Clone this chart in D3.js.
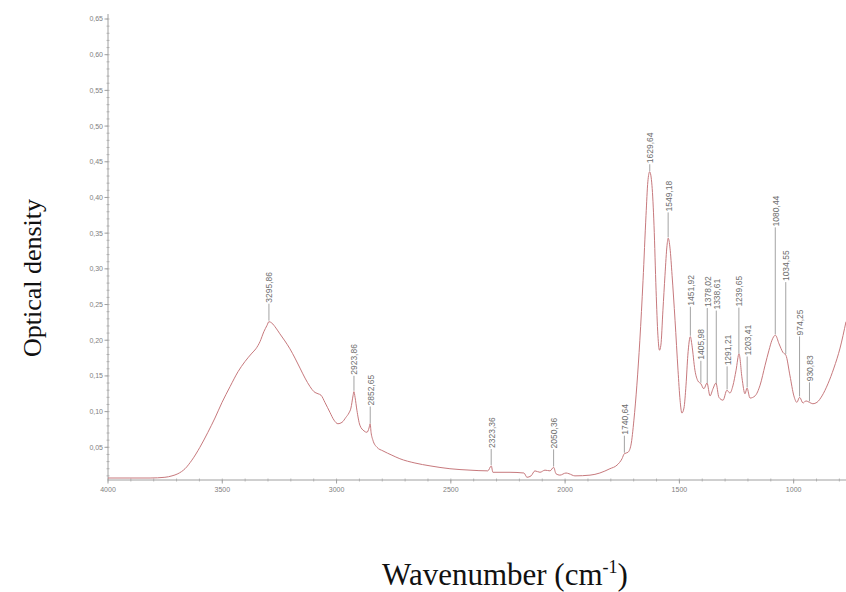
<!DOCTYPE html>
<html>
<head>
<meta charset="utf-8">
<script src="https://cdn.jsdelivr.net/npm/d3@7"></script>
<style>
  html, body { margin: 0; padding: 0; background: #fff; }
  svg { display: block; }
</style>
</head>
<body>
<svg id="chart" width="846" height="592"></svg>
<script>
// ИК-спектр: волновое число (см-1) и оптическая плотность
const wavenumbers = [
  4000, 3904, 3816, 3751, 3720, 3694, 3663, 3633, 3598, 3563, 3532, 3501, 3466, 3431, 3401,
  3370, 3353, 3335, 3318, 3304, 3296, 3283, 3265, 3248, 3226, 3204, 3182, 3160, 3138, 3116,
  3099, 3081, 3068, 3051, 3029, 3011, 2994, 2976, 2959, 2946, 2937, 2928, 2924, 2919, 2911,
  2898, 2880, 2867, 2858, 2853, 2849, 2841, 2823, 2797, 2758, 2723, 2657, 2591, 2504, 2416,
  2338, 2323, 2316, 2241, 2180, 2167, 2149, 2132, 2110, 2088, 2066, 2050, 2040, 2023, 1996,
  1983, 1957, 1891, 1848, 1804, 1773, 1751, 1741, 1725, 1712, 1699, 1686, 1673, 1659, 1646,
  1638, 1630, 1620, 1611, 1602, 1594, 1587, 1581, 1572, 1563, 1554, 1549, 1541, 1532, 1519,
  1506, 1497, 1489, 1480, 1471, 1463, 1452, 1445, 1432, 1419, 1406, 1393, 1379, 1366, 1353,
  1340, 1327, 1309, 1292, 1279, 1266, 1252, 1239, 1226, 1213, 1204, 1191, 1169, 1147, 1125,
  1108, 1095, 1080, 1064, 1047, 1034, 1016, 999, 986, 974, 959, 946, 931, 916, 898,
  876, 850, 824, 797, 771
];
const absorbance = [
  0.007, 0.007, 0.007, 0.008, 0.010, 0.013, 0.020, 0.032, 0.050, 0.071, 0.091, 0.113, 0.135, 0.156, 0.170,
  0.182, 0.188, 0.198, 0.212, 0.221, 0.226, 0.224, 0.217, 0.209, 0.199, 0.188, 0.175, 0.161, 0.147, 0.135,
  0.128, 0.125, 0.123, 0.113, 0.099, 0.088, 0.083, 0.085, 0.092, 0.098, 0.105, 0.122, 0.128, 0.120, 0.102,
  0.081, 0.073, 0.071, 0.077, 0.083, 0.071, 0.060, 0.050, 0.045, 0.039, 0.034, 0.028, 0.024, 0.020, 0.018,
  0.017, 0.024, 0.015, 0.015, 0.014, 0.008, 0.010, 0.017, 0.015, 0.018, 0.017, 0.022, 0.013, 0.011, 0.014,
  0.013, 0.010, 0.011, 0.014, 0.020, 0.025, 0.034, 0.041, 0.043, 0.053, 0.088, 0.137, 0.200, 0.284, 0.375,
  0.422, 0.436, 0.417, 0.361, 0.270, 0.207, 0.186, 0.193, 0.242, 0.291, 0.333, 0.343, 0.329, 0.291, 0.228,
  0.158, 0.116, 0.098, 0.105, 0.137, 0.179, 0.205, 0.193, 0.158, 0.143, 0.139, 0.132, 0.140, 0.122, 0.132,
  0.140, 0.120, 0.116, 0.130, 0.126, 0.136, 0.158, 0.181, 0.147, 0.125, 0.133, 0.119, 0.122, 0.137, 0.165,
  0.186, 0.200, 0.207, 0.195, 0.183, 0.179, 0.150, 0.122, 0.113, 0.120, 0.112, 0.115, 0.113, 0.111, 0.113,
  0.122, 0.139, 0.161, 0.189, 0.226
];

// Подписанные пики
const peakWavenumbers = [3295.86, 2923.86, 2852.65, 2323.36, 2050.36, 1740.64, 1629.64, 1549.18,
  1451.92, 1405.98, 1378.02, 1338.61, 1291.21, 1239.65, 1203.41, 1080.44, 1034.55, 974.25, 930.83];
const peakLabels = ["3295,86", "2923,86", "2852,65", "2323,36", "2050,36", "1740,64", "1629,64", "1549,18",
  "1451,92", "1405,98", "1378,02", "1338,61", "1291,21", "1239,65", "1203,41", "1080,44", "1034,55", "974,25", "930,83"];

// Деления осей
const xTicks = [4000, 3500, 3000, 2500, 2000, 1500, 1000];
const xTickLabels = ["4000", "3500", "3000", "2500", "2000", "1500", "1000"];
const yTicks = [0.05, 0.10, 0.15, 0.20, 0.25, 0.30, 0.35, 0.40, 0.45, 0.50, 0.55, 0.60, 0.65];
const yTickLabels = ["0,05", "0,10", "0,15", "0,20", "0,25", "0,30", "0,35", "0,40", "0,45", "0,50", "0,55", "0,60", "0,65"];

// длина выносных линий (пиксели), чтобы подписи не налезали друг на друга
const stemLength = [17, 15, 17, 16, 17, 17, 7, 25, 29, 22, 75, 73, 23, 46, 31, 107, 72, 60, 19];

const svg = d3.select("#chart");
const axisY = 480;

const x = d3.scaleLinear().domain([4000, 771]).range([108, 846]);
const y = d3.scaleLinear().domain([0, 0.65]).range([483, 19]);

const axisColor = "#a0a0a0";
const tickTextColor = "#808080";

// ось X
const xAxis = svg.append("g").attr("transform", `translate(0,${axisY})`);
xAxis.append("line")
  .attr("x1", 108).attr("x2", 846)
  .attr("stroke", axisColor);
xAxis.selectAll(".minor")
  .data(d3.range(4000, 771, -100))
  .enter().append("line")
  .attr("x1", (d) => x(d)).attr("x2", (d) => x(d))
  .attr("y1", -1.5).attr("y2", 1.5)
  .attr("stroke", axisColor).attr("stroke-width", 0.7);
xAxis.selectAll(".major")
  .data(xTicks)
  .enter().append("line")
  .attr("x1", (d) => x(d)).attr("x2", (d) => x(d))
  .attr("y1", 0).attr("y2", 3.5)
  .attr("stroke", axisColor);
xAxis.selectAll("text")
  .data(xTicks)
  .enter().append("text")
  .attr("x", (d) => x(d))
  .attr("y", 12)
  .attr("text-anchor", "middle")
  .attr("font-family", "Liberation Sans, Arial, sans-serif")
  .attr("font-size", 7)
  .attr("fill", tickTextColor)
  .text((d, i) => xTickLabels[i]);

// ось Y
const yAxis = svg.append("g").attr("transform", "translate(108,0)");
yAxis.append("line")
  .attr("y1", axisY).attr("y2", 14)
  .attr("stroke", axisColor);
yAxis.selectAll(".minor")
  .data(d3.range(1, 66).map((i) => i / 100))
  .enter().append("line")
  .attr("y1", (d) => y(d)).attr("y2", (d) => y(d))
  .attr("x1", -1.5).attr("x2", 1.5)
  .attr("stroke", axisColor).attr("stroke-width", 0.7);
yAxis.selectAll(".major")
  .data(yTicks)
  .enter().append("line")
  .attr("y1", (d) => y(d)).attr("y2", (d) => y(d))
  .attr("x1", -3.5).attr("x2", 0)
  .attr("stroke", axisColor);
yAxis.selectAll("text")
  .data(yTicks)
  .enter().append("text")
  .attr("x", -5)
  .attr("y", (d) => y(d))
  .attr("dy", "0.35em")
  .attr("text-anchor", "end")
  .attr("font-family", "Liberation Sans, Arial, sans-serif")
  .attr("font-size", 7)
  .attr("fill", tickTextColor)
  .text((d, i) => yTickLabels[i]);

// спектр
const spectrum = wavenumbers.map((w, i) => ({ w: w, a: absorbance[i] }));
const line = d3.line()
  .x((d) => x(d.w))
  .y((d) => y(d.a))
  .curve(d3.curveMonotoneX);

svg.append("path")
  .datum(spectrum)
  .attr("d", line)
  .attr("fill", "none")
  .attr("stroke", "#c7797d")
  .attr("stroke-width", 1);

// значение спектра в точке (линейная интерполяция между соседними точками)
function valueAt(w) {
  for (let i = 0; i < spectrum.length - 1; i++) {
    const a = spectrum[i], b = spectrum[i + 1];
    if (w <= a.w && w >= b.w) {
      const t = (a.w - w) / (a.w - b.w);
      return a.a + t * (b.a - a.a);
    }
  }
  return 0;
}

// подписи пиков
const peaks = svg.append("g");
peakWavenumbers.forEach((w, i) => {
  const px = x(w);
  const py = y(valueAt(w)) - 1;
  const top = py - stemLength[i];
  peaks.append("line")
    .attr("x1", px).attr("x2", px)
    .attr("y1", py).attr("y2", top)
    .attr("stroke", "#8c8c8c")
    .attr("stroke-width", 0.8);
  peaks.append("text")
    .attr("transform", `translate(${px + 3.5},${top - 1}) rotate(-90)`)
    .attr("text-anchor", "start")
    .attr("font-family", "Liberation Sans, Arial, sans-serif")
    .attr("font-size", 8.5)
    .attr("fill", "#6e6e6e")
    .text(peakLabels[i]);
});

// подписи осей
svg.append("text")
  .attr("transform", "translate(41,278) rotate(-90)")
  .attr("text-anchor", "middle")
  .attr("font-family", "Liberation Serif, 'Times New Roman', serif")
  .attr("font-size", 26)
  .attr("fill", "#111")
  .text("Optical density");

const xTitle = svg.append("text")
  .attr("x", 505)
  .attr("y", 585)
  .attr("text-anchor", "middle")
  .attr("font-family", "Liberation Serif, 'Times New Roman', serif")
  .attr("font-size", 31)
  .attr("fill", "#111");
xTitle.append("tspan").text("Wavenumber (cm");
xTitle.append("tspan").attr("font-size", 18).attr("dy", -12).text("-1");
xTitle.append("tspan").attr("dy", 12).text(")");
</script>
</body>
</html>
